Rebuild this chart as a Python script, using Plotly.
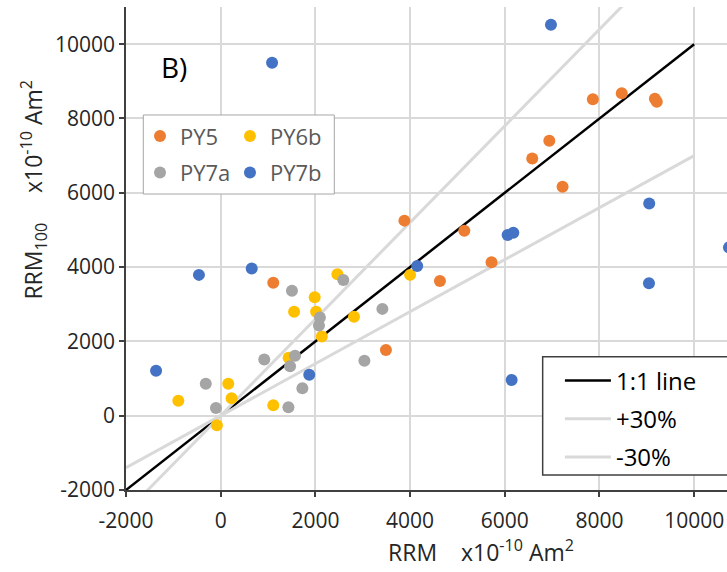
import plotly.graph_objects as go

# RRM (x) versus RRM100 (y) for each sample set, units x10^-10 Am^2
py5_x = [1110, 3880, 5145, 4630, 5720, 6580, 6940, 7220, 7860, 8470, 9170, 9210, 3490]
py5_y = [3580, 5250, 4980, 3625, 4130, 6920, 7400, 6165, 8520, 8680, 8530, 8450, 1770]

py6b_x = [-895, 160, 230, -80, 1110, 1985, 1550, 2015, 2135, 1435, 2815, 2465, 4000]
py6b_y = [405, 860, 470, -260, 280, 3190, 2800, 2800, 2130, 1560, 2665, 3805, 3790]

py7a_x = [-315, -100, 920, 1465, 1570, 1725, 1430, 1505, 2095, 2075, 2590, 3415, 3035]
py7a_y = [860, 210, 1510, 1330, 1615, 740, 225, 3365, 2640, 2425, 3655, 2875, 1480]

py7b_x = [1085, -460, 655, 6975, 9050, 9045, 6060, 6180, 4150, 10735, 6145, -1365, 1870]
py7b_y = [9500, 3790, 3960, 10525, 5710, 3565, 4865, 4925, 4030, 4530, 960, 1210, 1105]

# reference lines: 1:1 and +/-30 %
ref_x = [-2000, 10000]
ref_factors = {"1:1 line": 1.0, "+30%": 1.3, "-30%": 0.7}
ref_colors = {"1:1 line": "#000000", "+30%": "#d9d9d9", "-30%": "#d9d9d9"}

tick_vals = [-2000, 0, 2000, 4000, 6000, 8000, 10000]
tick_text = ["-2000", "0", "2000", "4000", "6000", "8000", "10000"]

FONT = "Open Sans"

fig = go.Figure()

for name, k in ref_factors.items():
    fig.add_trace(go.Scatter(
        x=ref_x, y=[k * v for v in ref_x], mode="lines", name=name,
        line=dict(color=ref_colors[name], width=2.5 if k == 1.0 else 3),
        legend="legend2", legendgroup=name, hoverinfo="skip"))

series = [
    ("PY5", py5_x, py5_y, "#ED7D31", "legend"),
    ("PY6b", py6b_x, py6b_y, "#FFC000", "legend3"),
    ("PY7a", py7a_x, py7a_y, "#A5A5A5", "legend"),
    ("PY7b", py7b_x, py7b_y, "#4472C4", "legend3"),
]
for name, xs, ys, col, lg in series:
    fig.add_trace(go.Scatter(
        x=xs, y=ys, mode="markers", name=name,
        marker=dict(color=col, size=12, line=dict(width=0)),
        legend=lg, legendgroup=name))

axis_common = dict(
    tickvals=tick_vals, ticktext=tick_text, showgrid=True, gridcolor="#d9d9d9", gridwidth=1.5,
    zeroline=False, showline=True, linecolor="#404040", linewidth=1.5,
    ticks="outside", ticklen=5, tickcolor="#404040", tickwidth=1.5,
    tickfont=dict(family=FONT, size=21, color="#262626"),
)

legend_marker = dict(
    bgcolor="rgba(0,0,0,0)", borderwidth=0, orientation="v",
    font=dict(family=FONT, size=22, color="#595959"),
    xanchor="left", yanchor="top", tracegroupgap=5, y=0.776,
)

fig.update_layout(
    width=727, height=572,
    margin=dict(l=126, r=0, t=7, b=82),
    paper_bgcolor="white", plot_bgcolor="white",
    font=dict(family=FONT, color="#262626"),
    xaxis=dict(range=[-2000, 10693], ticklabelstandoff=6, **axis_common),
    yaxis=dict(range=[-2000, 11000], **axis_common),
    legend=dict(x=0.0233, **legend_marker),
    legend3=dict(x=0.173, **legend_marker),
    legend2=dict(
        x=0.722, y=0.2723, xanchor="left", yanchor="top", itemwidth=46,
        bgcolor="rgba(0,0,0,0)", borderwidth=0, tracegroupgap=4,
        font=dict(family=FONT, size=24, color="#000000"),
    ),
    showlegend=True,
    shapes=[
        dict(type="rect", xref="paper", yref="paper",
             x0=0.0288, x1=0.3466, y0=0.6128, y1=0.7764,
             line=dict(color="#a6a6a6", width=1), fillcolor="white", layer="above"),
        dict(type="rect", xref="paper", yref="paper",
             x0=0.6933, x1=1.1, y0=0.0311, y1=0.276,
             line=dict(color="#404040", width=1.5), fillcolor="white", layer="above"),
    ],
    annotations=[
        dict(text="B)", xref="paper", yref="paper", x=0.0799, y=0.8758,
             xanchor="center", yanchor="middle", showarrow=False,
             font=dict(family=FONT, size=28, color="#000000")),
        dict(text="RRM    x10<sup>-10</sup> Am<sup>2</sup>", xref="paper", yref="paper",
             x=0.59, y=-0.1263, xanchor="center", yanchor="middle", showarrow=False,
             font=dict(family=FONT, size=23, color="#262626")),
        dict(text="RRM<sub>100</sub>     x10<sup>-10</sup> Am<sup>2</sup>", xref="paper", yref="paper",
             x=-0.1547, y=0.622, xanchor="center", yanchor="middle", showarrow=False,
             textangle=-90, font=dict(family=FONT, size=23, color="#262626")),
    ],
)

fig.write_html("out.html")
